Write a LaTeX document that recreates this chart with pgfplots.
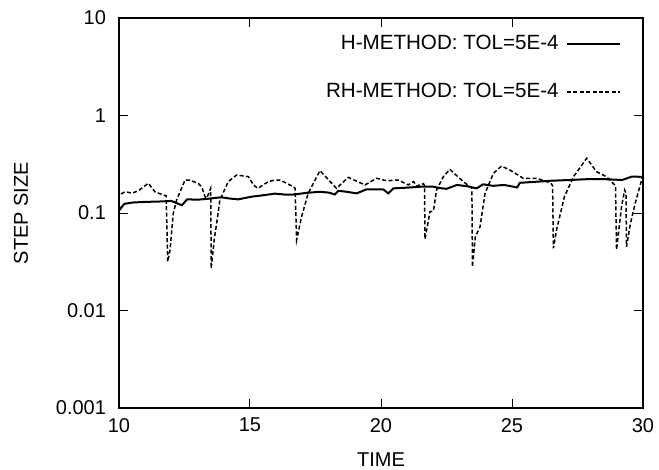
\documentclass[border=0pt]{standalone}
\usepackage{pgfplots}
\pgfplotsset{compat=1.18}
\usetikzlibrary{calc}
\usepackage{fontspec}
\setmainfont{Liberation Sans}
\newcommand\chartfont{\fontsize{10}{12}\selectfont}
\newcommand\legfont{\fontsize{10.3}{12.4}\selectfont}

\begin{document}
\begin{tikzpicture}
\begin{axis}[
    name=ax,
    scale only axis,
    width=262pt, height=195pt,
    xmin=10, xmax=30,
    ymin=0.001, ymax=10,
    ymode=log,
    log basis y=10,
    xtick={10,15,20,25,30},
    ytick={0.001,0.01,0.1,1,10},
    yticklabels={0.001,0.01,0.1,1,10},
    minor x tick num=0,
    tick align=inside,
    major tick length=4.5pt,
    minor tick length=2.5pt,
    tick style={black, line width=0.5pt},
    axis line style={line width=0.6pt},
    /pgf/number format/assume math mode=true,
    tick label style={font=\chartfont},
    xticklabel style={yshift=-1.5pt},
    yticklabel style={xshift=-3pt},
    xlabel={TIME},
    ylabel={STEP SIZE},
    every axis x label/.style={at={(rel axis cs:0.5,-0.133)}, anchor=center, font=\chartfont},
    every axis y label/.style={at={(rel axis cs:-0.187,0.5)}, anchor=center, rotate=90, font=\chartfont},
    legend cell align=right,
    legend plot pos=right,
    legend style={draw=none, fill=none, inner sep=0pt, outer sep=0pt,
        at={(rel axis cs:0.958,0.962)}, anchor=north east,
        row sep=13.5pt, font=\legfont,
        nodes={inner xsep=3.7pt, inner ysep=1pt}},
    legend image code/.code={\draw[#1] (0pt,0pt) -- (26.5pt,0pt);},
]
\addplot[black, line width=1pt] coordinates {
(10.0,0.116) (10.05,0.110) (10.2,0.124) (10.5,0.128) (11.0,0.130) (11.5,0.131)
(12.0,0.133) (12.4,0.120) (12.6,0.138) (13.0,0.137) (13.3,0.139) (13.6,0.142)
(13.9,0.145) (14.2,0.141) (14.55,0.138) (15.06,0.147) (15.5,0.152) (15.95,0.158)
(16.4,0.154) (16.7,0.155) (17.16,0.161) (17.67,0.165) (18.0,0.162) (18.24,0.155)
(18.37,0.169) (18.7,0.165) (19.07,0.159) (19.45,0.175) (20.08,0.175) (20.28,0.159)
(20.47,0.179) (21.0,0.182) (21.5,0.186) (22.0,0.186) (22.25,0.180) (22.5,0.177)
(22.9,0.194) (23.3,0.188) (23.65,0.179) (23.9,0.197) (24.27,0.190) (24.7,0.194)
(25.2,0.183) (25.3,0.204) (25.9,0.209) (26.45,0.214) (27.2,0.218) (27.98,0.223)
(28.6,0.222) (29.2,0.218) (29.57,0.236) (30.0,0.235)
};
\addlegendentry{H-METHOD: TOL=5E-4}
\addplot[black, line width=0.75pt, dash pattern=on 2pt off 1.2pt] coordinates {
(10.08,0.157) (10.23,0.165) (10.5,0.160) (10.74,0.169) (11.12,0.202) (11.37,0.165)
(11.69,0.153) (11.8,0.150) (11.86,0.0316) (11.95,0.042) (12.07,0.099) (12.2,0.136)
(12.52,0.218) (12.7,0.218) (13.03,0.200) (13.16,0.185) (13.28,0.147) (13.35,0.142)
(13.5,0.179) (13.52,0.027) (13.64,0.055) (13.73,0.079) (13.85,0.136) (14.17,0.21)
(14.49,0.245) (14.94,0.236) (15.13,0.194) (15.3,0.179) (15.7,0.21) (15.95,0.218)
(16.15,0.218) (16.65,0.186) (16.72,0.179) (16.78,0.053) (16.97,0.092) (17.22,0.159)
(17.67,0.272) (18.3,0.179) (18.75,0.232) (19.39,0.194) (19.83,0.227) (20.22,0.214)
(20.66,0.218) (21.04,0.194) (21.24,0.21) (21.36,0.189) (21.62,0.2) (21.66,0.19)
(21.68,0.054) (21.87,0.103) (22.0,0.105) (22.12,0.172) (22.38,0.236) (22.63,0.28)
(23.14,0.21) (23.4,0.186) (23.47,0.18) (23.49,0.028) (23.6,0.057) (23.78,0.072)
(23.97,0.159) (24.29,0.255) (24.6,0.303) (24.92,0.276) (25.43,0.227) (25.94,0.227)
(26.32,0.21) (26.5,0.2) (26.55,0.19) (26.58,0.0435) (26.7,0.067) (27.0,0.147)
(27.35,0.236) (27.85,0.364) (28.23,0.265) (28.6,0.236) (28.87,0.2) (28.95,0.19)
(28.99,0.042) (29.18,0.116) (29.3,0.172) (29.35,0.16) (29.37,0.045) (29.52,0.078)
(29.7,0.125) (30.0,0.245)
};
\addlegendentry{RH-METHOD: TOL=5E-4}
\end{axis}
\pgfresetboundingbox
\path ($(ax.south west)+(-59.5pt,-31pt)$) rectangle ($(ax.north east)+(8pt,9pt)$);
\end{tikzpicture}
\end{document}
